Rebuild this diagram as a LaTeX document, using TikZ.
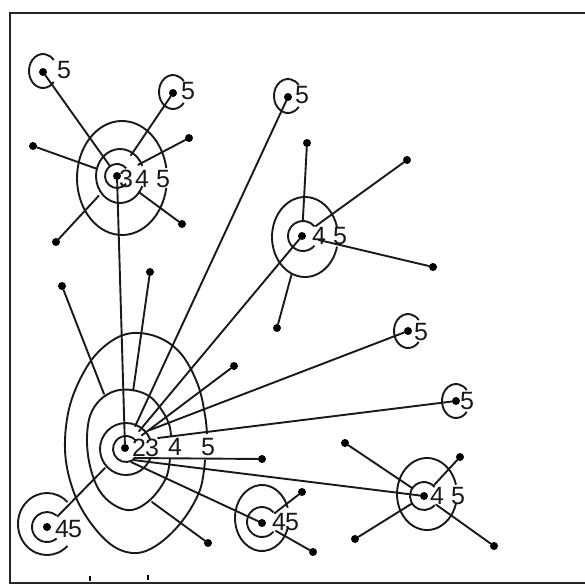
\documentclass[tikz,border=0pt]{standalone}
\usepackage{fontspec}
\setmainfont{Liberation Sans}
\usetikzlibrary{calc}
\newcommand{\myring}[4]{\draw[cont] ($(#1)+(#4:#2 and #3)$) arc[start angle=#4, end angle={360-#4}, x radius=#2, y radius=#3];}
\begin{document}
\begin{tikzpicture}[x=1pt,y=-1pt,
  ln/.style={line width=1.9pt, black!90, line cap=round},
  cont/.style={line width=1.9pt, black!90},
  dot/.style={circle, fill=black, inner sep=0pt, minimum size=8pt},
  lab/.style={font=\fontsize{25}{25}\selectfont, inner sep=0pt, text=black!90},
  frame/.style={line width=2.2pt, black!85}]
\useasboundingbox (0,0) rectangle (585,585);
% frame
\draw[frame] (585,13) -- (10,13) -- (10,583) -- (585,583);
\draw[line width=1.8pt] (90,576) -- (90,581);
\draw[line width=1.8pt] (148,575) -- (148,580);

% centre dots
\node[dot] (A) at (125,448) {};
\node[dot] (B) at (117,176) {};
\node[dot] (C) at (302,236) {};
\node[dot] (D) at (262,523) {};
\node[dot] (E) at (424,496) {};
\node[dot] (F) at (47,527) {};
\node[dot] (I) at (288,97) {};
\node[dot] (J) at (43,72) {};
\node[dot] (K) at (173,93) {};
\node[dot] (G) at (408,331) {};
\node[dot] (H) at (456,401) {};
% plain dots
\node[dot] (d1) at (62,286) {};
\node[dot] (d2) at (150,272) {};
\node[dot] (d3) at (234,366) {};
\node[dot] (d4) at (262,459) {};
\node[dot] (d5) at (208,543) {};
\node[dot] (e1) at (33,146) {};
\node[dot] (e2) at (189,138) {};
\node[dot] (e3) at (182,224) {};
\node[dot] (e4) at (56,242) {};
\node[dot] (f1) at (307,143) {};
\node[dot] (f2) at (407,160) {};
\node[dot] (f3) at (433,267) {};
\node[dot] (f4) at (277,328) {};
\node[dot] (g1) at (345,443) {};
\node[dot] (g2) at (460,457) {};
\node[dot] (g3) at (355,539) {};
\node[dot] (g4) at (494,546) {};
\node[dot] (h1) at (302,492) {};
\node[dot] (h2) at (313,552) {};

% contours of A
\myring{126,449}{13}{13}{40}
\myring{126,449}{26}{26}{22}
\draw[cont] plot[smooth, tension=0.6] coordinates {(170,458) (166,478) (151,499) (132,510) (114,505) (99,490) (90,466) (87,440) (90,416) (100,400) (115,391) (132,390) (149,396) (161,409) (169,424) (171,436)};
\draw[cont] plot[smooth, tension=0.6] coordinates {(205,460) (200,490) (183,520) (160,543) (137,553) (113,546) (90,522) (73,490) (65,450) (70,405) (88,365) (110,342) (133,333) (160,338) (182,355) (198,385) (205,415) (207,434)};
% contours of B
\myring{117,176}{12}{12}{40}
\myring{120,176}{24}{27}{22}
\myring{122,178}{45}{57}{10}
% contours of C, D, E, F
\myring{303,236}{15}{15}{40}
\myring{305,237}{33}{40}{14}
\myring{262,522}{15}{15}{40}
\myring{262,518}{27}{33}{18}
\myring{424,496}{14}{14}{40}
\myring{427,494}{30}{36}{15}
\myring{47,527}{15}{15}{50}
\myring{47,524}{29}{31}{45}
% single rings
\myring{43,71}{14}{17}{40}
\myring{173,92}{14}{17}{40}
\myring{288,96}{14}{17}{40}
\myring{408,331}{14}{17}{40}
\myring{456,401}{14}{17}{40}

% connectors of A
\draw[ln] (d1) -- ($(A)!58pt!(d1)$);
\draw[ln] (d2) -- ($(A)!58pt!(d2)$);
\draw[ln] (B) -- (A);
\draw[ln] (I) -- ($(A)!24pt!(I)$);
\draw[ln] (C) -- ($(A)!22pt!(C)$);
\draw[ln] (d3) -- ($(A)!21pt!(d3)$);
\coordinate (aG) at (150,430);
\coordinate (aH) at (158,438);
\coordinate (a4) at (134,458);
\coordinate (aE) at (133,460);
\coordinate (aD) at (131,462);
\coordinate (a5) at (152,502);
\coordinate (aF) at (105,468);
\draw[ln] (G) -- (aG);
\draw[ln] (H) -- (aH);
\draw[ln] (d4) -- (a4);
\draw[ln] (aE) -- (E);
\draw[ln] (aD) -- (D);
\draw[ln] (d5) -- (a5);
\draw[ln] ($(F)!15pt!(A)$) -- (aF);
% connectors of B
\draw[ln] (J) -- ($(B)!13pt!(J)$);
\draw[ln] (K) -- ($(B)!25pt!(K)$);
\draw[ln] (e1) -- ($(B)!22pt!(e1)$);
\draw[ln] (e2) -- ($(B)!24pt!(e2)$);
\draw[ln] (e3) -- ($(B)!27pt!(e3)$);
\draw[ln] (e4) -- ($(B)!27pt!(e4)$);
% connectors of C
\draw[ln] (f1) -- ($(C)!16pt!(f1)$);
\draw[ln] (f2) -- ($(C)!17pt!(f2)$);
\draw[ln] (f3) -- ($(C)!17pt!(f3)$);
\draw[ln] (f4) -- ($(C)!40pt!(f4)$);
% connectors of E
\draw[ln] (g1) -- ($(E)!15pt!(g1)$);
\draw[ln] (g2) -- ($(E)!15pt!(g2)$);
\draw[ln] (g3) -- ($(E)!15pt!(g3)$);
\draw[ln] (g4) -- ($(E)!15pt!(g4)$);
% connectors of D
\draw[ln] (h1) -- ($(D)!16pt!(h1)$);
\draw[ln] (h2) -- ($(D)!16pt!(h2)$);

% labels
\node[lab] (lA2) at (139,448) {2};
\node[lab] (lA3) at (152,448) {3};
\node[lab] (lA4) at (175,447) {4};
\node[lab] (lA5) at (208,447) {5};
\node[lab] (lB3) at (126,179) {3};
\node[lab] (lB4) at (142,179) {4};
\node[lab] (lB5) at (163,179) {5};
\node[lab] (lC4) at (319,236) {4};
\node[lab] (lC5) at (340,236) {5};
\node[lab] (lD4) at (279,522) {4};
\node[lab] (lD5) at (292,522) {5};
\node[lab] (lE4) at (437,496) {4};
\node[lab] (lE5) at (458,496) {5};
\node[lab] (lF4) at (62,529) {4};
\node[lab] (lF5) at (75,529) {5};
\node[lab] (lJ5) at (64,70) {5};
\node[lab] (lK5) at (188,91) {5};
\node[lab] (lI5) at (302,95) {5};
\node[lab] (lG5) at (421,332) {5};
\node[lab] (lH5) at (467,401) {5};
\end{tikzpicture}
\end{document}
